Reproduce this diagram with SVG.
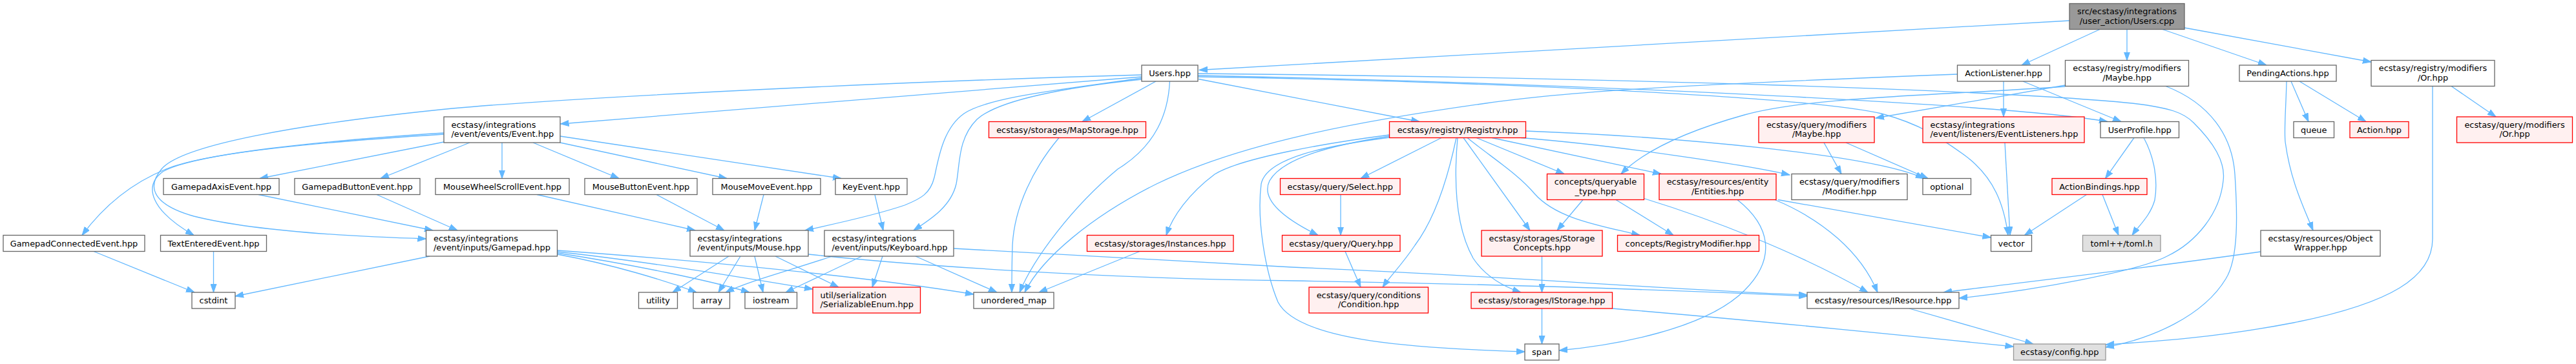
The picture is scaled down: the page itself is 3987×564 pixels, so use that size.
<svg xmlns="http://www.w3.org/2000/svg" width="3987" height="564" viewBox="0 0 3987 564">
<defs>
<marker id="a" markerWidth="14" markerHeight="10" refX="13" refY="5" orient="auto" markerUnits="userSpaceOnUse"><path d="M0,0.4 L13,5 L0,9.6 z" fill="#63b8ff" stroke="#63b8ff" stroke-width="1"/></marker>
<style>
.w{fill:#ffffff;stroke:#666666;stroke-width:1.3}
.r{fill:#fff0f0;stroke:#ff0000;stroke-width:1.3}
.g{fill:#e0e0e0;stroke:#999999;stroke-width:1.3}
.t{fill:#999999;stroke:#666666;stroke-width:1.3}
text{font-family:"DejaVu Sans","Liberation Sans",sans-serif;font-size:12.9px;fill:#000000}
.c{text-anchor:middle}
#edges path{fill:none;stroke:#63b8ff;stroke-width:1.3;marker-end:url(#a)}
</style>
</defs>
<rect x="0" y="0" width="3987" height="564" fill="#ffffff"/>
<g id="edges">
<path d="M3203,32 L1856,108.5"/>
<path d="M3250,45.5 L3129,101"/>
<path d="M3292,45.5 L3292,93.5"/>
<path d="M3347,45.5 L3508,101"/>
<path d="M3381,43 L3670,96"/>
<path d="M1767,116 C1400,126 900,150 700,168 C460,192 280,225 250,262 C225,292 240,318 300,335 C400,360 560,367 659.5,370"/>
<path d="M1767,119 L867.5,192"/>
<path d="M1767,121 C1650,138 1530,150 1492,176 C1458,200 1452,250 1446,275 C1440,300 1425,308 1400,318 C1350,335 1290,347 1246,357"/>
<path d="M1767,123 C1650,135 1545,155 1512,185 C1482,215 1486,255 1480,285 C1472,320 1440,340 1414,357"/>
<path d="M1789,126 L1675,188.5"/>
<path d="M1810.5,126 C1808,175 1790,225 1730,262 C1660,320 1600,400 1578,453"/>
<path d="M1855,122.5 L2197,188.5"/>
<path d="M1854,117 C2400,128 3100,160 3262,188.5"/>
<path d="M1854,119 C2300,126 2800,150 2912,176 C2975,193 3005,215 3040,240 C3088,275 3102,320 3108,364.5"/>
<path d="M1854,114 C2500,120 3100,140 3300,160 C3360,167 3380,175 3395,190 C3425,220 3445,250 3441,280 C3436,330 3400,375 3354,397 C3310,420 3150,450 3032,462"/>
<path d="M3101,126 L3101,181"/>
<path d="M3131,126 L3283,188.5"/>
<path d="M3029.5,115 C2700,128 2450,138 2300,160 C2100,188 1920,222 1790,285 C1690,335 1612,400 1586,453"/>
<path d="M3196.5,132 L2903,183"/>
<path d="M3196.5,134 C3000,148 2800,150 2700,178 C2600,206 2540,238 2509,269.5"/>
<path d="M3352,133.5 C3420,160 3455,210 3459,270 C3463,330 3465,400 3445,432 C3410,490 3330,525 3259,538"/>
<path d="M3546,126 L3573,188.5"/>
<path d="M3559,126 L3662,188.5"/>
<path d="M3539,126 C3538,170 3535,200 3537,220 C3545,280 3565,320 3580,357"/>
<path d="M3794,133.5 L3863,181"/>
<path d="M3765,133.5 L3765,370 C3765,430 3700,470 3550,500 C3420,525 3320,530 3259,534"/>
<path d="M687,208 C500,220 330,235 262,260 C205,282 160,320 127,364.5"/>
<path d="M687,206 C500,218 300,238 252,266 C222,288 232,325 300,364.5"/>
<path d="M687,220 L402,276.5"/>
<path d="M727,221 L589,276.5"/>
<path d="M777,221 L777,276.5"/>
<path d="M825,221 L958,276.5"/>
<path d="M867,221 L1125,276.5"/>
<path d="M867,211 L1302,276.5"/>
<path d="M400,301.5 L670,357"/>
<path d="M583,301.5 L708,357"/>
<path d="M831,301.5 L1076,357"/>
<path d="M1016,301.5 L1121,357"/>
<path d="M1182,301.5 L1168,357"/>
<path d="M1354,301.5 L1367,357"/>
<path d="M665,397 L364,459"/>
<path d="M862.5,394 C950,410 1030,435 1078,453"/>
<path d="M862.5,392 C980,410 1100,435 1160,453"/>
<path d="M862.5,390 C1000,405 1150,430 1258,448"/>
<path d="M862.5,388 C1100,405 1350,430 1507,456"/>
<path d="M1128,397 L1041,453"/>
<path d="M1146,397 L1112,453"/>
<path d="M1168,397 L1181,453"/>
<path d="M1200,397 L1298,445"/>
<path d="M1251,394 C1400,410 1700,432 2000,435 C2300,440 2600,450 2797,459"/>
<path d="M1288,397 C1220,420 1160,435 1123,453"/>
<path d="M1334,397 L1216,453"/>
<path d="M1366,397 L1350,445"/>
<path d="M1417,397 L1543,453"/>
<path d="M1476,385 C1700,398 1900,410 2000,414 C2300,426 2600,450 2797,457"/>
<path d="M1639,213.5 C1600,260 1570,320 1567,380 C1566,410 1566,430 1566,453"/>
<path d="M1764,389.5 L1608,453"/>
<path d="M2150.5,209 C2050,222 1920,245 1880,270 C1840,300 1815,335 1805,364.5"/>
<path d="M2150.5,211 C2060,225 1985,245 1965,280 C1950,310 1990,340 2040,364.5"/>
<path d="M2150.5,213 C2050,226 1960,245 1952,285 C1945,340 1958,420 1978,468 C2010,530 2200,540 2360,545"/>
<path d="M2231,213.5 L2106,276.5"/>
<path d="M2254,213.5 C2240,280 2220,340 2190,380 C2170,410 2150,430 2140,445"/>
<path d="M2265,213.5 L2368,357"/>
<path d="M2256,213.5 C2250,280 2252,350 2280,400 C2300,430 2330,445 2354,453"/>
<path d="M2271,213.5 C2310,245 2350,270 2375,300 C2410,340 2480,350 2538,364.5"/>
<path d="M2285,213.5 L2421,269.5"/>
<path d="M2309,213.5 L2571,269.5"/>
<path d="M2354,213.5 C2500,225 2700,255 2770,271"/>
<path d="M2361.5,203 C2600,212 2900,240 2978,276.5"/>
<path d="M2075,301.5 L2075,364.5"/>
<path d="M2082,389.5 L2106,445"/>
<path d="M2450,309.5 L2410,357"/>
<path d="M2501,309.5 L2590,364.5"/>
<path d="M2543,307 C2650,340 2780,390 2891,453"/>
<path d="M2752,309.5 L3081.5,368"/>
<path d="M2747,309.5 C2820,340 2880,390 2906,453"/>
<path d="M2689,309.5 C2740,350 2750,400 2700,450 C2640,510 2500,535 2413,543"/>
<path d="M2386.5,397 L2386.5,453"/>
<path d="M2386.5,478 L2386.5,533"/>
<path d="M2495.5,478 C2700,495 2950,520 3116.5,537"/>
<path d="M2955,478 L3147,533"/>
<path d="M2823,221 L2850,269.5"/>
<path d="M2857,221 L2984,276.5"/>
<path d="M3103,221 L3111,364.5"/>
<path d="M3303,213.5 L3258.5,276.5"/>
<path d="M3318,213.5 C3335,245 3340,280 3335,310 C3328,335 3310,350 3300,364.5"/>
<path d="M3229.5,301.5 L3133.5,364.5"/>
<path d="M3254,301.5 L3279,364.5"/>
<path d="M3499,390 C3300,418 3150,435 3008,453"/>
<path d="M145,389.5 L301,453"/>
<path d="M330.5,389.5 L330.5,453"/>
</g>
<g id="n_cpp"><rect class="t" x="3203" y="5.5" width="178" height="40"/><text class="c" x="3292" y="22">src/ecstasy/integrations</text><text class="c" x="3292" y="36.5">/user_action/Users.cpp</text></g>
<g id="n_users"><rect class="w" x="1767" y="101" width="87" height="25"/><text class="c" x="1810.5" y="118">Users.hpp</text></g>
<g id="n_al"><rect class="w" x="3029.5" y="101" width="143" height="25"/><text class="c" x="3101" y="118">ActionListener.hpp</text></g>
<g id="n_rmaybe"><rect class="w" x="3196.5" y="93.5" width="191" height="40"/><text class="c" x="3292" y="110">ecstasy/registry/modifiers</text><text class="c" x="3292" y="124.5">/Maybe.hpp</text></g>
<g id="n_pa"><rect class="w" x="3466" y="101" width="150" height="25"/><text class="c" x="3541" y="118">PendingActions.hpp</text></g>
<g id="n_ror"><rect class="w" x="3670" y="93.5" width="191" height="40"/><text class="c" x="3765.5" y="110">ecstasy/registry/modifiers</text><text class="c" x="3765.5" y="124.5">/Or.hpp</text></g>
<g id="n_event"><rect class="w" x="687" y="181" width="180" height="40"/><text x="698.5" y="197.5">ecstasy/integrations</text><text x="698.5" y="212">/event/events/Event.hpp</text></g>
<g id="n_map"><rect class="r" x="1530.5" y="188.5" width="243" height="25"/><text class="c" x="1652" y="205.5">ecstasy/storages/MapStorage.hpp</text></g>
<g id="n_reg"><rect class="r" x="2150.5" y="188.5" width="211" height="25"/><text class="c" x="2256" y="205.5">ecstasy/registry/Registry.hpp</text></g>
<g id="n_qmaybe"><rect class="r" x="2722" y="181" width="179" height="40"/><text class="c" x="2811.5" y="197.5">ecstasy/query/modifiers</text><text class="c" x="2811.5" y="212">/Maybe.hpp</text></g>
<g id="n_el"><rect class="r" x="2976" y="181" width="250" height="40"/><text x="2987.5" y="197.5">ecstasy/integrations</text><text x="2987.5" y="212">/event/listeners/EventListeners.hpp</text></g>
<g id="n_up"><rect class="w" x="3251" y="188.5" width="121.5" height="25"/><text class="c" x="3311.75" y="205.5">UserProfile.hpp</text></g>
<g id="n_queue"><rect class="w" x="3550" y="188.5" width="62.5" height="25"/><text class="c" x="3581.25" y="205.5">queue</text></g>
<g id="n_action"><rect class="r" x="3637" y="188.5" width="91" height="25"/><text class="c" x="3682.5" y="205.5">Action.hpp</text></g>
<g id="n_qor"><rect class="r" x="3802.5" y="181" width="179" height="40"/><text class="c" x="3892" y="197.5">ecstasy/query/modifiers</text><text class="c" x="3892" y="212">/Or.hpp</text></g>
<g id="n_gaxis"><rect class="w" x="253" y="276.5" width="179" height="25"/><text class="c" x="342.5" y="293.5">GamepadAxisEvent.hpp</text></g>
<g id="n_gbutton"><rect class="w" x="456" y="276.5" width="194" height="25"/><text class="c" x="553" y="293.5">GamepadButtonEvent.hpp</text></g>
<g id="n_mwheel"><rect class="w" x="674" y="276.5" width="207" height="25"/><text class="c" x="777.5" y="293.5">MouseWheelScrollEvent.hpp</text></g>
<g id="n_mbutton"><rect class="w" x="905" y="276.5" width="174" height="25"/><text class="c" x="992" y="293.5">MouseButtonEvent.hpp</text></g>
<g id="n_mmove"><rect class="w" x="1103" y="276.5" width="167" height="25"/><text class="c" x="1186.5" y="293.5">MouseMoveEvent.hpp</text></g>
<g id="n_key"><rect class="w" x="1293" y="276.5" width="111" height="25"/><text class="c" x="1348.5" y="293.5">KeyEvent.hpp</text></g>
<g id="n_select"><rect class="r" x="1981.5" y="276.5" width="185.5" height="25"/><text class="c" x="2074.25" y="293.5">ecstasy/query/Select.hpp</text></g>
<g id="n_qt"><rect class="r" x="2394.5" y="269.5" width="150" height="40"/><text class="c" x="2469.5" y="286">concepts/queryable</text><text class="c" x="2469.5" y="300.5">_type.hpp</text></g>
<g id="n_ent"><rect class="r" x="2568" y="269.5" width="181" height="40"/><text class="c" x="2658.5" y="286">ecstasy/resources/entity</text><text class="c" x="2658.5" y="300.5">/Entities.hpp</text></g>
<g id="n_mod"><rect class="w" x="2773" y="269.5" width="179" height="40"/><text class="c" x="2862.5" y="286">ecstasy/query/modifiers</text><text class="c" x="2862.5" y="300.5">/Modifier.hpp</text></g>
<g id="n_opt"><rect class="w" x="2976" y="276.5" width="74.5" height="25"/><text class="c" x="3013.25" y="293.5">optional</text></g>
<g id="n_ab"><rect class="r" x="3176" y="276.5" width="147" height="25"/><text class="c" x="3249.5" y="293.5">ActionBindings.hpp</text></g>
<g id="n_gconn"><rect class="w" x="5" y="364.5" width="219" height="25"/><text class="c" x="114.5" y="381.5">GamepadConnectedEvent.hpp</text></g>
<g id="n_text"><rect class="w" x="248.5" y="364.5" width="164" height="25"/><text class="c" x="330.5" y="381.5">TextEnteredEvent.hpp</text></g>
<g id="n_gamepad"><rect class="w" x="659.5" y="357" width="203" height="40"/><text x="671" y="373.5">ecstasy/integrations</text><text x="671" y="388">/event/inputs/Gamepad.hpp</text></g>
<g id="n_mouse"><rect class="w" x="1068" y="357" width="183" height="40"/><text x="1079.5" y="373.5">ecstasy/integrations</text><text x="1079.5" y="388">/event/inputs/Mouse.hpp</text></g>
<g id="n_kb"><rect class="w" x="1276" y="357" width="200" height="40"/><text x="1287.5" y="373.5">ecstasy/integrations</text><text x="1287.5" y="388">/event/inputs/Keyboard.hpp</text></g>
<g id="n_inst"><rect class="r" x="1682.5" y="364.5" width="226.5" height="25"/><text class="c" x="1795.75" y="381.5">ecstasy/storages/Instances.hpp</text></g>
<g id="n_query"><rect class="r" x="1984.5" y="364.5" width="182.5" height="25"/><text class="c" x="2075.75" y="381.5">ecstasy/query/Query.hpp</text></g>
<g id="n_sc"><rect class="r" x="2293" y="357" width="187" height="40"/><text class="c" x="2386.5" y="373.5">ecstasy/storages/Storage</text><text class="c" x="2386.5" y="388">Concepts.hpp</text></g>
<g id="n_rm"><rect class="r" x="2503.5" y="364.5" width="219" height="25"/><text class="c" x="2613" y="381.5">concepts/RegistryModifier.hpp</text></g>
<g id="n_vec"><rect class="w" x="3081.5" y="364.5" width="63" height="25"/><text class="c" x="3113" y="381.5">vector</text></g>
<g id="n_toml"><rect class="g" x="3223.5" y="364.5" width="120.5" height="25"/><text class="c" x="3283.75" y="381.5">toml++/toml.h</text></g>
<g id="n_ow"><rect class="w" x="3499" y="357" width="185" height="40"/><text class="c" x="3591.5" y="373.5">ecstasy/resources/Object</text><text class="c" x="3591.5" y="388">Wrapper.hpp</text></g>
<g id="n_cstdint"><rect class="w" x="297" y="453" width="67" height="25"/><text class="c" x="330.5" y="470">cstdint</text></g>
<g id="n_utility"><rect class="w" x="988.5" y="453" width="60" height="25"/><text class="c" x="1018.5" y="470">utility</text></g>
<g id="n_array"><rect class="w" x="1073" y="453" width="56.5" height="25"/><text class="c" x="1101.25" y="470">array</text></g>
<g id="n_iostream"><rect class="w" x="1153" y="453" width="80.5" height="25"/><text class="c" x="1193.25" y="470">iostream</text></g>
<g id="n_se"><rect class="r" x="1258" y="445" width="166.5" height="40"/><text x="1269.5" y="461.5">util/serialization</text><text x="1269.5" y="476">/SerializableEnum.hpp</text></g>
<g id="n_umap"><rect class="w" x="1507" y="453" width="124" height="25"/><text class="c" x="1569" y="470">unordered_map</text></g>
<g id="n_cond"><rect class="r" x="2026" y="445" width="184.5" height="40"/><text class="c" x="2118.25" y="461.5">ecstasy/query/conditions</text><text class="c" x="2118.25" y="476">/Condition.hpp</text></g>
<g id="n_istorage"><rect class="r" x="2277" y="453" width="218.5" height="25"/><text class="c" x="2386.25" y="470">ecstasy/storages/IStorage.hpp</text></g>
<g id="n_ires"><rect class="w" x="2797" y="453" width="235" height="25"/><text class="c" x="2914.5" y="470">ecstasy/resources/IResource.hpp</text></g>
<g id="n_span"><rect class="w" x="2360" y="533" width="53" height="25"/><text class="c" x="2386.5" y="550">span</text></g>
<g id="n_config"><rect class="g" x="3116.5" y="533" width="142.5" height="25"/><text class="c" x="3187.75" y="550">ecstasy/config.hpp</text></g>
</svg>
